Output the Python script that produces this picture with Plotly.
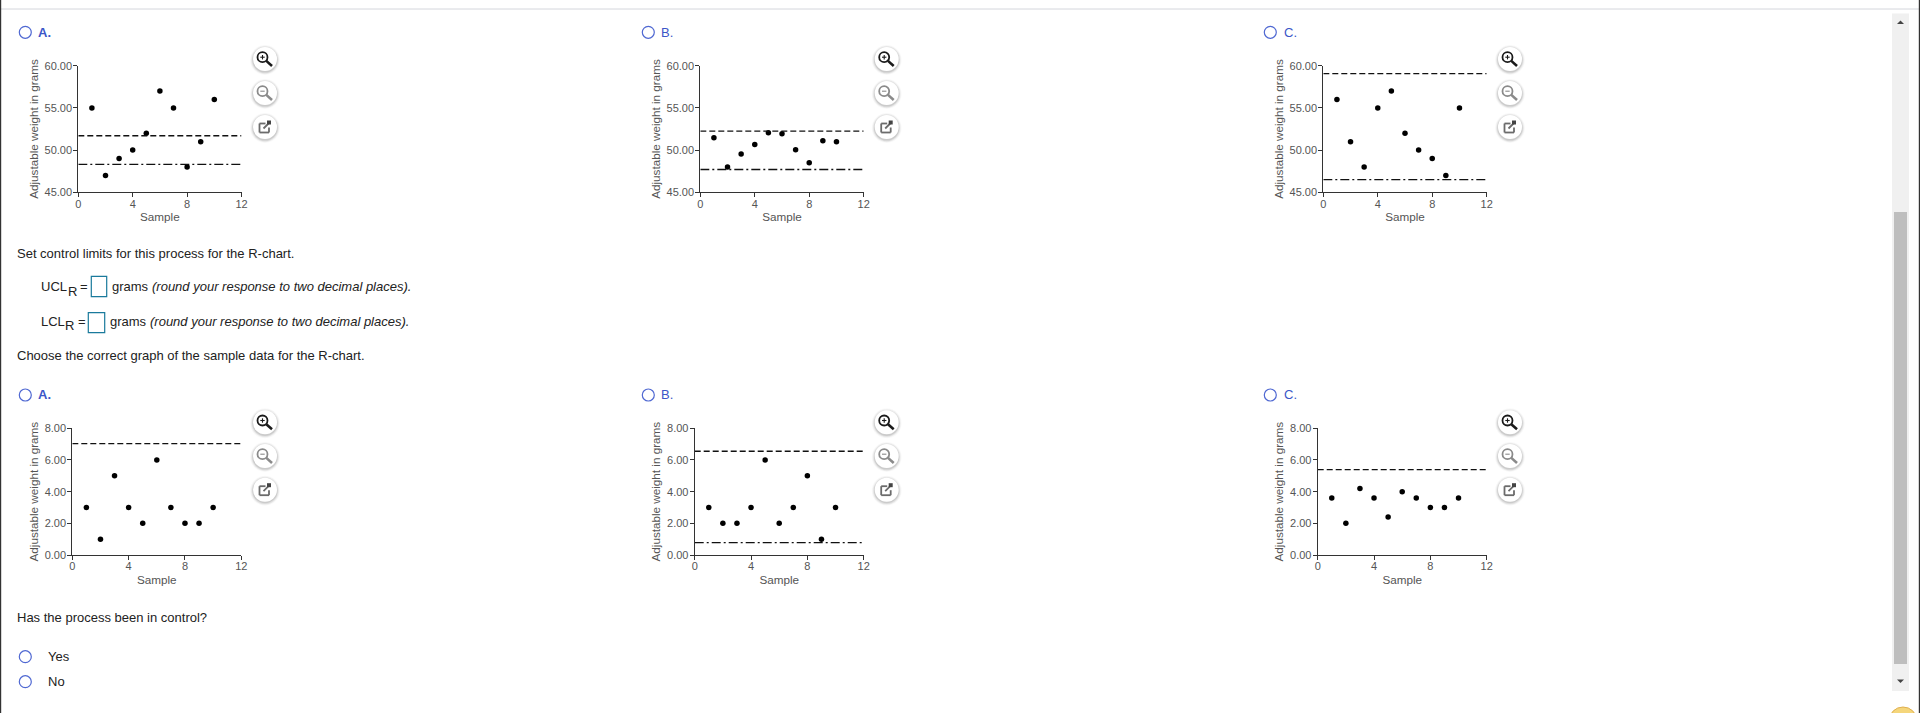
import plotly.graph_objects as go

W, H = 1920, 713
FONT = 'Liberation Sans'

# ===== DADOS =====
samples = [1, 2, 3, 4, 5, 6, 7, 8, 9, 10]

xbar_a = [55, 47, 49, 50, 52, 57, 55, 48, 51, 56]
xbar_b = [51.45, 48, 49.55, 50.65, 52.05, 51.95, 50.05, 48.5, 51.1, 51]
xbar_c = [56, 51, 48, 55, 57, 52, 50, 49, 47, 55]
r_a = [3, 1, 5, 3, 2, 6, 3, 2, 2, 3]
r_b = [3, 2, 2, 3, 6, 2, 3, 5, 1, 3]
r_c = [3.6, 2, 4.2, 3.6, 2.4, 4, 3.6, 3, 3, 3.6]

ucl_values = [51.7, 52.25, 59.05, 7.03, 6.55, 5.39]
lcl_values = [48.3, 47.7, 46.5, None, 0.78, None]

xbar_ticks = [45, 50, 55, 60]
r_ticks = [0, 2, 4, 6, 8]
sample_ticks = [0, 4, 8, 12]

# ===== GEOMETRIA (pixels) =====
# x0, x1, ytop, ybottom, ymin, ymax, yticks, dados
paineis = [
    (78.3, 241.5, 65.7, 192.3, 45, 60, xbar_ticks, xbar_a),
    (700.3, 863.7, 65.7, 192.3, 45, 60, xbar_ticks, xbar_b),
    (1323.3, 1486.7, 65.7, 192.3, 45, 60, xbar_ticks, xbar_c),
    (72.3, 241.3, 428.3, 555, 0, 8, r_ticks, r_a),
    (694.7, 863.7, 428.3, 555, 0, 8, r_ticks, r_b),
    (1317.7, 1486.7, 428.3, 555, 0, 8, r_ticks, r_c),
]


def px(x):
    return x / W


def py(y):
    return 1 - y / H


shapes = []
annotations = []


def circ(cx, cy, r, fill='rgba(0,0,0,0)', line='rgba(0,0,0,0)', width=0):
    shapes.append(dict(type='circle', xref='paper', yref='paper',
                       x0=px(cx - r), x1=px(cx + r), y0=py(cy + r), y1=py(cy - r),
                       fillcolor=fill, line=dict(color=line, width=width)))


def rect(x0, y0, x1, y1, fill='rgba(0,0,0,0)', line='rgba(0,0,0,0)', width=0):
    shapes.append(dict(type='rect', xref='paper', yref='paper',
                       x0=px(x0), x1=px(x1), y0=py(y1), y1=py(y0),
                       fillcolor=fill, line=dict(color=line, width=width)))


def seg(x0, y0, x1, y1, color, width):
    shapes.append(dict(type='line', xref='paper', yref='paper',
                       x0=px(x0), x1=px(x1), y0=py(y0), y1=py(y1),
                       line=dict(color=color, width=width)))


def poly(pts, fill):
    path = 'M ' + ' L '.join(f'{px(x):.6f},{py(y):.6f}' for x, y in pts) + ' Z'
    shapes.append(dict(type='path', xref='paper', yref='paper', path=path,
                       fillcolor=fill, line=dict(width=0)))


def texto(x, y, s, size=13, color='#222222', bold=False, italic=False):
    if bold:
        s = f'<b>{s}</b>'
    if italic:
        s = f'<i>{s}</i>'
    annotations.append(dict(xref='paper', yref='paper', x=px(x), y=py(y), text=s,
                            showarrow=False, xanchor='left', yanchor='middle',
                            borderpad=0, borderwidth=0,
                            font=dict(family=FONT, size=size, color=color)))


def radio(cx, cy):
    circ(cx, cy, 6, fill='white', line='#4f68d2', width=1.2)


def botao(cx, cy):
    for r, a in [(15, 0.025), (14.2, 0.04), (13.4, 0.06), (12.6, 0.09)]:
        circ(cx, cy + 1, r, fill=f'rgba(0,0,0,{a})')
    circ(cx, cy, 12, fill='white')


def lupa(cx, cy, cor, mais):
    botao(cx, cy)
    circ(cx - 2.5, cy - 1.8, 5, fill='white', line=cor, width=1.8)
    seg(cx + 1.3, cy + 1.9, cx + 7, cy + 7, cor, 2.6)
    seg(cx - 4.7, cy - 1.8, cx - 0.3, cy - 1.8, cor, 1.1)
    if mais:
        seg(cx - 2.5, cy - 4, cx - 2.5, cy + 0.4, cor, 1.1)


def abrir(cx, cy):
    botao(cx, cy)
    cor = '#6b6b6b'
    seg(cx - 5.5, cy - 3.5, cx + 0.5, cy - 3.5, cor, 1.8)
    seg(cx - 5.5, cy - 3.5, cx - 5.5, cy + 5.5, cor, 1.8)
    seg(cx - 5.5, cy + 5.5, cx + 4, cy + 5.5, cor, 1.8)
    seg(cx + 4, cy + 5.5, cx + 4, cy + 0.5, cor, 1.8)
    seg(cx - 1.5, cy + 1.5, cx + 4, cy - 4, cor, 1.8)
    rect(cx + 2, cy - 6.5, cx + 6, cy - 2.5, fill='#444444')


# ===== GRÁFICOS =====
fig = go.Figure()
eixos = {}
for i, (x0, x1, yt, yb, ymin, ymax, yticks, valores) in enumerate(paineis):
    n = '' if i == 0 else str(i + 1)
    xa, ya = 'x' + n, 'y' + n
    fig.add_trace(go.Scatter(x=samples, y=valores, mode='markers', xaxis=xa, yaxis=ya,
                             marker=dict(color='black', size=5.5), cliponaxis=False,
                             showlegend=False, hoverinfo='skip'))
    fig.add_trace(go.Scatter(x=sample_ticks[::3], y=[ucl_values[i]] * 2, mode='lines',
                             xaxis=xa, yaxis=ya, showlegend=False, hoverinfo='skip',
                             line=dict(color='#111111', width=1.3, dash='6px,3px')))
    if lcl_values[i] is not None:
        fig.add_trace(go.Scatter(x=sample_ticks[::3], y=[lcl_values[i]] * 2, mode='lines',
                                 xaxis=xa, yaxis=ya, showlegend=False, hoverinfo='skip',
                                 line=dict(color='#111111', width=1.3, dash='9px,3px,2px,3px')))
    comum = dict(showgrid=False, zeroline=False, showline=True, linecolor='#333333',
                 linewidth=1, ticks='outside', ticklen=4, tickwidth=1, tickcolor='#333333',
                 tickfont=dict(family=FONT, size=11, color='#555555'), automargin=False)
    eixos['xaxis' + n] = dict(comum, domain=[px(x0), px(x1)], anchor=ya, range=[0, 12],
                              tickmode='array', tickvals=sample_ticks, ticklabelstandoff=-3,
                              title=dict(text='Sample', standoff=4,
                                         font=dict(family=FONT, size=11.7, color='#555555')))
    eixos['yaxis' + n] = dict(comum, domain=[py(yb), py(yt)], anchor=xa, range=[ymin, ymax],
                              tickmode='array', tickvals=yticks, tickformat='.2f',
                              ticklabelstandoff=-1,
                              title=dict(text='Adjustable weight in grams', standoff=3,
                                         font=dict(family=FONT, size=11.7, color='#555555')))

# ===== BOTÕES DE ZOOM =====
for cx in [265, 886.7, 1510]:
    for ys in [(59, 93, 127), (422.3, 456, 489.7)]:
        lupa(cx, ys[0], '#1a1a1a', True)
        lupa(cx, ys[1], '#8a8a8a', False)
        abrir(cx, ys[2])

# ===== OPÇÕES =====
for y in [32.3, 395]:
    radio(25.3, y)
    texto(38, y, 'A.', color='#3c56c8', bold=True)
    radio(648.3, y)
    texto(661, y, 'B.', color='#3c56c8')
    radio(1270.3, y)
    texto(1283.6, y, 'C.', color='#3c56c8')

# ===== TEXTO DA PÁGINA =====
texto(17.3, 254, 'Set control limits for this process for the R-chart.')
texto(17.3, 355.5, 'Choose the correct graph of the sample data for the R-chart.')
texto(17.3, 617.3, 'Has the process been in control?')

texto(41, 286.7, 'UCL')
texto(67.7, 291, 'R')
texto(80, 286.7, '=')
rect(91.3, 276.3, 106.7, 296.7, fill='white', line='#1a7a9c', width=1.2)
texto(112.3, 286.7, 'grams')
texto(152, 286.7, '(round your response to two decimal places).', italic=True)

texto(41, 321.6, 'LCL')
texto(65, 326, 'R')
texto(78, 321.6, '=')
rect(88.3, 312.7, 104.7, 332.7, fill='white', line='#1a7a9c', width=1.2)
texto(110.3, 321.6, 'grams')
texto(150, 321.6, '(round your response to two decimal places).', italic=True)

radio(25.3, 656.7)
texto(47.7, 656.7, 'Yes')
radio(25.3, 681.7)
texto(47.7, 681.7, 'No')

# ===== MOLDURA DA JANELA =====
seg(1, 9, 1919, 9, '#d4d6dc', 1)
rect(0, 0, 1.2, H, fill='#333333')
rect(1918.8, 0, W, H, fill='#333333')
rect(1892, 13.6, 1909, 691, fill='#f0f0f0')
rect(1894, 212, 1907, 664, fill='#bebebe')
poly([(1897, 24), (1904, 24), (1900.5, 20.5)], '#444444')
poly([(1897, 679.5), (1904, 679.5), (1900.5, 683)], '#444444')
circ(1903, 721, 14, fill='#f5d67b', line='#e0b050', width=1)

fig.update_layout(
    width=W, height=H,
    margin=dict(l=0, r=0, t=0, b=0),
    paper_bgcolor='white',
    plot_bgcolor='white',
    font=dict(family=FONT),
    showlegend=False,
    shapes=shapes,
    annotations=annotations,
    **eixos
)

fig.write_html('out.html', config={'displayModeBar': False},
               post_script="document.body.style.margin='0';document.body.style.overflow='hidden';")
